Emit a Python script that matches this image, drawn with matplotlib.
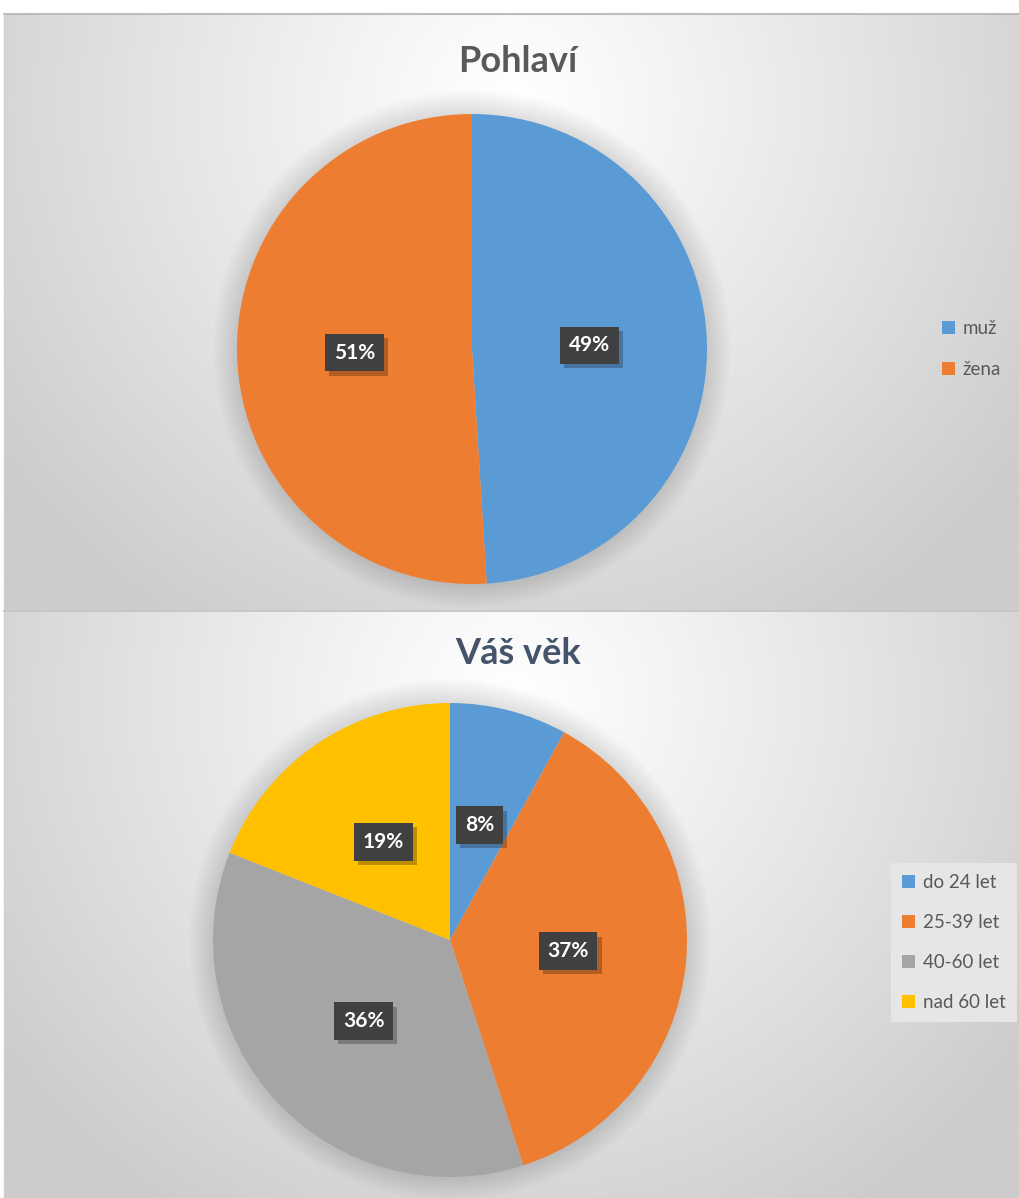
import numpy as np
import matplotlib
matplotlib.use("Agg")
import matplotlib.pyplot as plt
from matplotlib.patches import Circle, Patch
import matplotlib.patheffects as pe

plt.rcParams['font.family'] = ['Lato', 'DejaVu Sans']

# Data
gender_labels = ["muž", "žena"]
gender_values = [49, 51]
gender_colors = ["#5B9BD5", "#ED7D31"]

age_labels = ["do 24 let", "25-39 let", "40-60 let", "nad 60 let"]
age_values = [8, 37, 36, 19]
age_colors = ["#5B9BD5", "#ED7D31", "#A5A5A5", "#FFC000"]

W, H = 1019, 1198
fig = plt.figure(figsize=(W / 100, H / 100), dpi=100)
fig.patch.set_facecolor("white")


def fx(x):
    return x / W


def fy(y):
    return 1 - y / H


def panel_bg(x0, y0, x1, y1, gcx=0.5, gcy=0.85):
    ax = fig.add_axes([fx(x0), fy(y1), fx(x1 - x0), (y1 - y0) / H], zorder=0)
    ax.set_axis_off()
    nx, ny = 400, 300
    xs = np.linspace(0, 1, nx)
    ys = np.linspace(0, 1, ny)
    X, Y = np.meshgrid(xs, ys)
    r = np.sqrt(((X - gcx) / 0.62) ** 2 + ((Y - gcy) / 1.05) ** 2)
    r = np.clip(r, 0, 1)
    v = 1.0 - 0.20 * r ** 1.1
    img = np.dstack([v, v, v])
    ax.imshow(img, extent=[0, 1, 0, 1], origin="lower", aspect="auto")
    ax.set_xlim(0, 1)
    ax.set_ylim(0, 1)
    return ax


bg1 = panel_bg(4, 14, 1019, 610)
bg2 = panel_bg(4, 611, 1019, 1198)

# panel borders
line_ax = fig.add_axes([0, 0, 1, 1], zorder=0.5)
line_ax.set_axis_off()
line_ax.set_xlim(0, W)
line_ax.set_ylim(H, 0)
line_ax.plot([4, W], [14, 14], color="#bdbdbd", lw=1.5)
line_ax.plot([4, 4], [14, H], color="#d0d0d0", lw=1)
line_ax.plot([4, W], [610.5, 610.5], color="#bfbfbf", lw=1.2)


def draw_pie(values, colors, cx, cy, R):
    ax = fig.add_axes([fx(cx - R), fy(cy + R), 2 * R / W, 2 * R / H], zorder=2)
    ax.set_axis_off()
    # soft shadow
    for i in range(10):
        ax.add_patch(Circle((0, 0), 1.0 + 0.01 * (i + 1), color="#000000",
                            alpha=0.01, lw=0, zorder=0, clip_on=False))
    wedges, _ = ax.pie(values, colors=colors, startangle=90, counterclock=False,
                       radius=1, wedgeprops=dict(linewidth=0))
    ax.set_xlim(-1, 1)
    ax.set_ylim(-1, 1)
    total = sum(values)
    ang = 90.0
    for v in values:
        sweep = 360.0 * v / total
        mid = np.deg2rad(ang - sweep / 2)
        ang -= sweep
        x, y = 0.5 * np.cos(mid), 0.5 * np.sin(mid)
        t = ax.text(x, y, f"{v}%", ha="center", va="center", fontsize=15,
                    fontweight="bold", color="white",
                    bbox=dict(boxstyle="square,pad=0.42", fc="#404040", ec="none"),
                    zorder=6)
        t.get_bbox_patch().set_path_effects(
            [pe.SimplePatchShadow(offset=(3, -3), shadow_rgbFace="black", alpha=0.25),
             pe.Normal()])
    return ax, wedges


ax1, w1 = draw_pie(gender_values, gender_colors, 472, 349, 235)
ax2, w2 = draw_pie(age_values, age_colors, 450, 940, 237)

# titles
fig.text(fx(518), fy(61), "Pohlaví", ha="center", va="center", fontsize=26,
         fontweight="bold", color="#595959", zorder=3)
fig.text(fx(518), fy(653), "Váš věk", ha="center", va="center", fontsize=26,
         fontweight="bold", color="#44546A", zorder=3)

# legends
h1 = [Patch(facecolor=c, edgecolor="none") for c in gender_colors]
leg1 = fig.legend(h1, gender_labels, loc="upper left",
                  bbox_to_anchor=(fx(942), fy(320)), frameon=False,
                  fontsize=13.5, labelcolor="#595959", handlelength=0.7,
                  handleheight=0.7, handletextpad=0.4, labelspacing=1.3,
                  borderaxespad=0, borderpad=0)
leg1.set_zorder(4)

h2 = [Patch(facecolor=c, edgecolor="none") for c in age_colors]
leg2 = fig.legend(h2, age_labels, loc="upper left",
                  bbox_to_anchor=(fx(891), fy(863)), frameon=True,
                  fontsize=13.5, labelcolor="#595959", handlelength=0.7,
                  handleheight=0.7, handletextpad=0.4, labelspacing=1.22,
                  borderaxespad=0, borderpad=0.6, fancybox=False)
leg2.get_frame().set_facecolor("#e6e6e6")
leg2.get_frame().set_edgecolor("none")
leg2.get_frame().set_alpha(1)
leg2.set_zorder(4)

fig.savefig("out.png", dpi=100)
